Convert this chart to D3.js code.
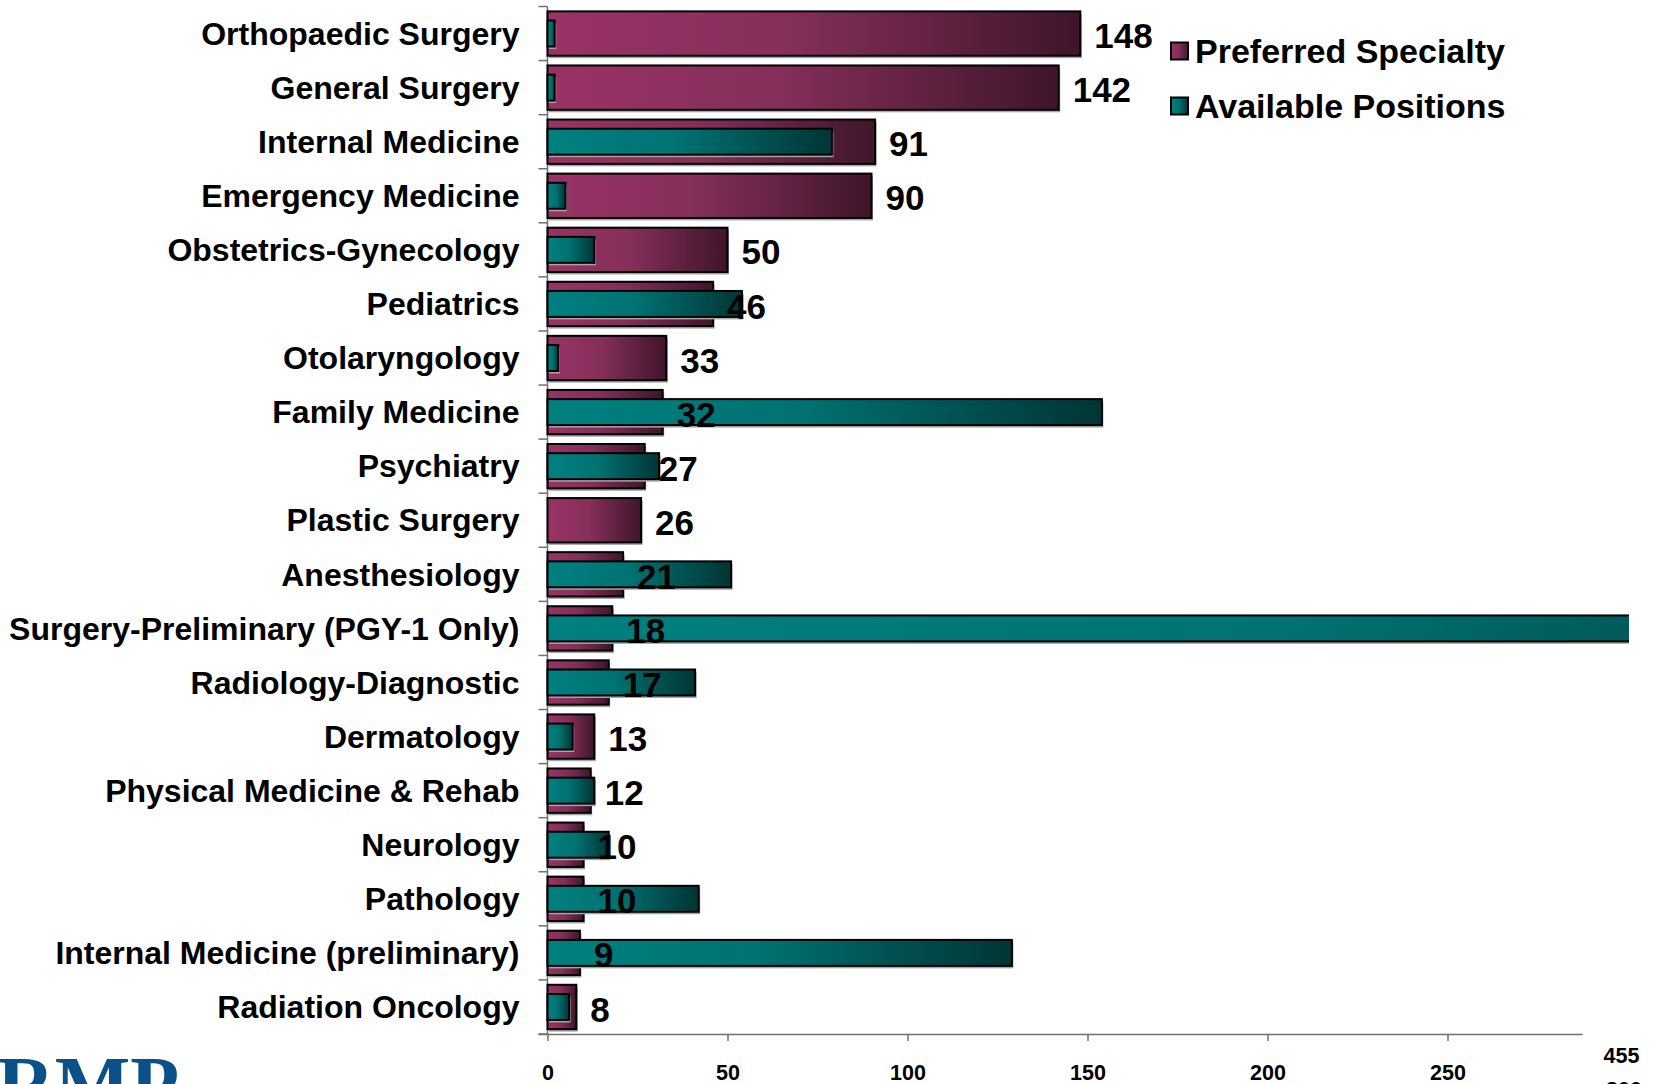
<!DOCTYPE html>
<html>
<head>
<meta charset="utf-8">
<script src="https://cdn.jsdelivr.net/npm/d3@7"></script>
<style>
  html, body { margin: 0; padding: 0; background: #fff; overflow: hidden; }
  text { font-family: "Liberation Sans", Arial, sans-serif; font-weight: bold; }
</style>
</head>
<body>
<svg id="chart"></svg>
<script>
// specialties, top to bottom
const categories = [
  'Orthopaedic Surgery', 'General Surgery', 'Internal Medicine', 'Emergency Medicine',
  'Obstetrics-Gynecology', 'Pediatrics', 'Otolaryngology', 'Family Medicine',
  'Psychiatry', 'Plastic Surgery', 'Anesthesiology', 'Surgery-Preliminary (PGY-1 Only)',
  'Radiology-Diagnostic', 'Dermatology', 'Physical Medicine & Rehab', 'Neurology',
  'Pathology', 'Internal Medicine (preliminary)', 'Radiation Oncology'
];
const preferred = [148, 142, 91, 90, 50, 46, 33, 32, 27, 26, 21, 18, 17, 13, 12, 10, 10, 9, 8];
const available = [2, 2, 79, 5, 13, 54, 3, 154, 31, 0, 51, 455, 41, 7, 13, 17, 42, 129, 6];
const tickValues = [0, 50, 100, 150, 200, 250, 300];
const seriesNames = ['Preferred Specialty', 'Available Positions'];

const width = 1654;
const height = 1084;

const rows = categories.map((c, i) => ({ name: c, pref: preferred[i], avail: available[i] }));

const x = d3.scaleLinear().domain([0, 300]).range([547.5, 1627.5]);
const y = d3.scaleBand().domain(categories).range([6.5, 1034]).padding(0);

const svg = d3.select('#chart')
  .attr('width', width)
  .attr('height', height);

svg.append('rect').attr('width', width).attr('height', height).attr('fill', '#fff');

const defs = svg.append('defs');
const grad = (id, stops) => {
  const g = defs.append('linearGradient').attr('id', id)
    .attr('x1', '0%').attr('x2', '100%').attr('y1', '0%').attr('y2', '0%');
  stops.forEach(s => g.append('stop').attr('offset', s[0]).attr('stop-color', s[1]));
};
grad('maroon', [[0, '#993366'], [0.45, '#852f5a'], [1, '#3f152b']]);
grad('teal', [[0, '#008080'], [0.45, '#007272'], [1, '#003535']]);

defs.append('clipPath').attr('id', 'plotClip')
  .append('rect')
  .attr('x', 0).attr('y', 0)
  .attr('width', x(300) + 1.5).attr('height', height);

// axes
const axisColor = '#707070';
const bottomY = y.range()[1];

svg.append('line')
  .attr('x1', x(0)).attr('x2', x(0))
  .attr('y1', y.range()[0]).attr('y2', bottomY)
  .attr('stroke', axisColor).attr('stroke-width', 1.5);

svg.selectAll('.ytick')
  .data(d3.range(categories.length + 1))
  .enter().append('line')
  .attr('x1', x(0) - 9).attr('x2', x(0))
  .attr('y1', i => y.range()[0] + i * y.step())
  .attr('y2', i => y.range()[0] + i * y.step())
  .attr('stroke', axisColor).attr('stroke-width', 1.5);

const xAxis = svg.append('g')
  .attr('transform', `translate(0, ${bottomY})`)
  .call(d3.axisBottom(x).tickValues(tickValues).tickSize(7).tickPadding(24));

xAxis.select('.domain')
  .attr('d', `M${x(0) - 9},0.5H${x(287.5)}`)
  .attr('stroke', axisColor).attr('stroke-width', 1.5);
xAxis.selectAll('.tick line').attr('stroke', axisColor).attr('stroke-width', 1.5);
xAxis.selectAll('.tick text')
  .style('font-family', '"Liberation Sans", Arial, sans-serif')
  .style('font-weight', 'bold')
  .attr('font-size', 21.5)
  .attr('fill', '#000');
// last tick sits outside the drawn axis and is mostly hidden
xAxis.selectAll('.tick').filter(d => d === 300).select('line').remove();
xAxis.selectAll('.tick').filter(d => d === 300).select('text')
  .attr('x', -4).attr('y', 48);

// bars
const plot = svg.append('g').attr('clip-path', 'url(#plotClip)');
const prefH = y.step() * 0.82;
const availH = y.step() * 0.48;

const bar = (sel, h, key, fill) => {
  const g = sel.selectAll(`.${key}`)
    .data(rows.filter(d => d[key] > 0))
    .enter().append('g').attr('class', key);
  g.append('rect')
    .attr('x', x(0) + 1.5)
    .attr('y', d => y(d.name) + (y.step() - h) / 2 + 2.5)
    .attr('width', d => x(d[key]) - x(0))
    .attr('height', h)
    .attr('fill', '#a6a6a6');
  g.append('rect')
    .attr('x', x(0))
    .attr('y', d => y(d.name) + (y.step() - h) / 2)
    .attr('width', d => x(d[key]) - x(0))
    .attr('height', h)
    .attr('fill', fill)
    .attr('stroke', '#000')
    .attr('stroke-width', 2);
};
bar(plot, prefH, 'pref', 'url(#maroon)');
bar(plot, availH, 'avail', 'url(#teal)');

// category labels
svg.selectAll('.cat')
  .data(categories)
  .enter().append('text')
  .attr('x', x(0) - 28)
  .attr('y', d => y(d) + y.step() / 2)
  .attr('dy', '0.35em')
  .attr('text-anchor', 'end')
  .attr('font-size', 32)
  .text(d => d);

// value labels for preferred specialty
svg.selectAll('.val')
  .data(rows)
  .enter().append('text')
  .attr('x', d => x(d.pref) + 14)
  .attr('y', d => y(d.name) + y.step() / 2 + 2)
  .attr('dy', '0.36em')
  .attr('font-size', 35)
  .text(d => d.pref);

// clipped bar value
const big = rows.filter(d => d.avail > 300);
svg.selectAll('.big')
  .data(big)
  .enter().append('text')
  .attr('x', x(300) - 6)
  .attr('y', bottomY + 29)
  .attr('text-anchor', 'middle')
  .attr('font-size', 21.5)
  .text(d => d.avail);

// legend
const legend = svg.append('g').attr('transform', 'translate(1171, 0)');
seriesNames.forEach((name, i) => {
  const cy = 51 + i * 55;
  legend.append('rect')
    .attr('x', 0).attr('y', cy - 8.5)
    .attr('width', 17).attr('height', 17)
    .attr('fill', i === 0 ? 'url(#maroon)' : 'url(#teal)')
    .attr('stroke', '#000').attr('stroke-width', 2);
  legend.append('text')
    .attr('x', 24).attr('y', cy)
    .attr('dy', '0.36em')
    .attr('font-size', 34)
    .text(name);
});

// logo fragment, bottom left
svg.append('text')
  .attr('x', -3).attr('y', 1112)
  .style('font-family', '"Liberation Serif", "DejaVu Serif", serif')
  .attr('font-size', 80)
  .attr('fill', '#0b5086')
  .text('RMP');
</script>
</body>
</html>
